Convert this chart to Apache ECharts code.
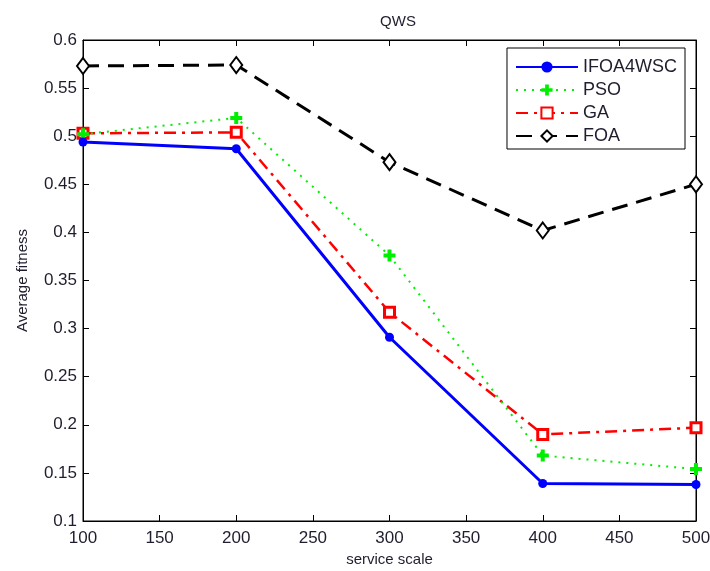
<!DOCTYPE html>
<html><head><meta charset="utf-8">
<script src="https://cdn.jsdelivr.net/npm/echarts@6/dist/echarts.min.js"></script>
<style>html,body{margin:0;padding:0;background:#fff}#c{width:710px;height:571px}</style>
</head><body><div id="c"></div>
<script>
const scales = [100, 200, 300, 400, 500];
const ifoa = [0.494, 0.487, 0.291, 0.139, 0.138];
const pso  = [0.502, 0.519, 0.376, 0.168, 0.154];
const ga   = [0.503, 0.504, 0.317, 0.190, 0.197];
const foa  = [0.573, 0.574, 0.473, 0.402, 0.450];
const seriesNames = ['IFOA4WSC', 'PSO', 'GA', 'FOA'];

const font = 'Liberation Sans, Arial, sans-serif';
const txt = '#1e1e2e';
const pair = arr => scales.map((x, i) => [x, arr[i]]);
const plus = 'path://M-1,-3H1V-1H3V1H1V3H-1V1H-3V-1H-1Z';

const chart = echarts.init(document.getElementById('c'), null, {renderer: 'canvas'});
const axisCommon = {
  axisLine: {show: true, onZero: false, lineStyle: {color: '#000', width: 1}},
  axisTick: {show: true, inside: true, length: 6, lineStyle: {color: '#000'}},
  splitLine: {show: false}
};
chart.setOption({
  animation: false,
  backgroundColor: '#fff',
  title: {text: 'QWS', left: 393, top: 9, textAlign: 'center',
    textStyle: {fontFamily: font, fontSize: 15, fontWeight: 'normal', color: txt}},
  grid: {left: 83, right: 14, top: 40, bottom: 50, show: true, borderColor: '#000', borderWidth: 1,
    outerBoundsMode: 'none', containLabel: false},
  legend: {
    data: seriesNames, orient: 'vertical', right: 25, top: 48,
    backgroundColor: '#fff', borderColor: '#000', borderWidth: 1,
    padding: [10, 8, 4, 8], itemGap: 5, itemWidth: 62, itemHeight: 14,
    textStyle: {fontFamily: font, fontSize: 18, color: txt}
  },
  xAxis: [
    Object.assign({type: 'value', min: 100, max: 500, interval: 50, position: 'bottom',
      name: 'service scale', nameLocation: 'middle', nameGap: 31,
      nameTextStyle: {fontFamily: font, fontSize: 15, color: txt},
      axisLabel: {fontFamily: font, fontSize: 17, color: txt, margin: 9}}, axisCommon),
    Object.assign({type: 'value', min: 100, max: 500, interval: 50, position: 'top',
      axisLabel: {show: false}}, axisCommon)
  ],
  yAxis: [
    Object.assign({type: 'value', min: 0.1, max: 0.6, interval: 0.05, position: 'left',
      name: 'Average fitness', nameLocation: 'middle', nameGap: 53, nameRotate: 90,
      nameTextStyle: {fontFamily: font, fontSize: 15, color: txt},
      axisLabel: {fontFamily: font, fontSize: 17, color: txt, margin: 6,
        formatter: v => String(Math.round(v * 100) / 100)}}, axisCommon),
    Object.assign({type: 'value', min: 0.1, max: 0.6, interval: 0.05, position: 'right',
      axisLabel: {show: false}}, axisCommon)
  ],
  series: [
    {name: 'IFOA4WSC', type: 'line', data: pair(ifoa), symbol: 'circle', symbolSize: 9,
      itemStyle: {color: '#0000ff'}, lineStyle: {color: '#0000ff', width: 3}, z: 5},
    {name: 'PSO', type: 'line', data: pair(pso), symbol: plus, symbolSize: 12,
      itemStyle: {color: '#00ee00'}, lineStyle: {color: '#00ee00', width: 2, type: [2, 6]}, z: 4},
    {name: 'GA', type: 'line', data: pair(ga), symbol: 'rect', symbolSize: 10,
      itemStyle: {color: '#fff', borderColor: '#ff0000', borderWidth: 3},
      lineStyle: {color: '#ff0000', width: 2.5, type: [12, 6, 3, 6]}, z: 3},
    {name: 'FOA', type: 'line', data: pair(foa), symbol: 'diamond', symbolSize: [12, 16],
      itemStyle: {color: '#fff', borderColor: '#000', borderWidth: 2},
      lineStyle: {color: '#000', width: 3, type: [16, 9]}, z: 2}
  ]
});
</script></body></html>
